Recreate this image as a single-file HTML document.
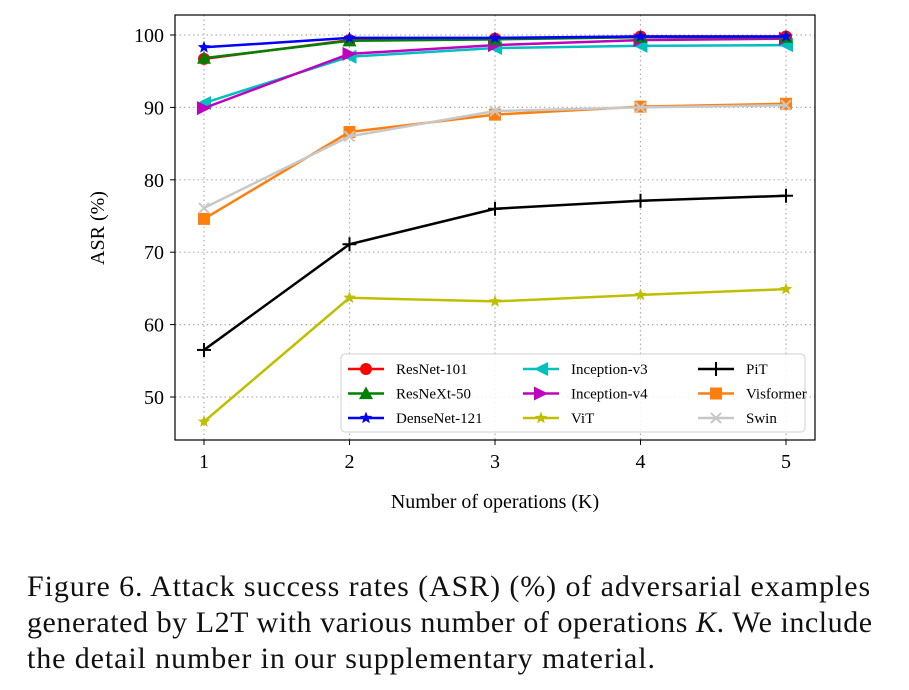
<!DOCTYPE html>
<html><head><meta charset="utf-8"><style>
body{margin:0;background:#fff;width:909px;height:690px;overflow:hidden;font-family:"Liberation Serif",serif}
.cap{position:absolute;left:27px;top:569px;font-size:30px;line-height:36px;letter-spacing:0.9px;color:#111;white-space:nowrap}
.cap span{display:block}
</style></head><body>
<svg id="chart" width="909" height="545" style="position:absolute;left:0;top:0" font-family="Liberation Serif, serif"></svg>
<div class="cap"><span>Figure 6. Attack success rates (ASR) (%) of adversarial examples</span><span style="letter-spacing:0.55px">generated by L2T with various number of operations <i>K</i>. We include</span><span>the detail number in our supplementary material.</span></div>
<script>
const categories=[1,2,3,4,5];
const yTicks=[50,60,70,80,90,100];
const resnet101=[96.7,99.3,99.5,99.8,99.8];
const resnext50=[96.8,99.2,99.4,99.7,99.7];
const densenet121=[98.3,99.6,99.6,99.8,99.8];
const inceptionV3=[90.6,97.0,98.2,98.5,98.6];
const inceptionV4=[89.9,97.4,98.6,99.3,99.5];
const vit=[46.6,63.7,63.2,64.1,64.9];
const pit=[56.5,71.1,76.0,77.1,77.8];
const visformer=[74.6,86.6,89.0,90.1,90.5];
const swin=[76.1,86.0,89.5,90.0,90.3];
const NS='http://www.w3.org/2000/svg';
const svg=document.getElementById('chart');
const X=k=>204+(k-1)*145.5;
const Y=v=>35+(100-v)*7.24;
function mk(t,a,p){const e=document.createElementNS(NS,t);for(const k in a)e.setAttribute(k,a[k]);(p||svg).appendChild(e);return e;}
yTicks.forEach(v=>{const l=mk('line',{x1:175,x2:815,y1:Y(v),y2:Y(v),stroke:'#b0b0b0','stroke-dasharray':'1.5,3','stroke-width':1.2});

mk('line',{x1:170,x2:175,y1:Y(v),y2:Y(v),stroke:'#000'});
const t=mk('text',{x:164,y:Y(v)+7,'text-anchor':'end','font-size':20});t.textContent=v;
});
categories.forEach(c=>{const l=mk('line',{x1:X(c),x2:X(c),y1:15,y2:440,stroke:'#b0b0b0','stroke-dasharray':'1.5,3','stroke-width':1.2});

mk('line',{x1:X(c),x2:X(c),y1:440,y2:445,stroke:'#000'});
const t=mk('text',{x:X(c),y:468,'text-anchor':'middle','font-size':20});t.textContent=c;
});
const f=mk('rect',{x:175,y:15,width:640,height:425,fill:'none',stroke:'#000','stroke-width':1.2});

const xt=mk('text',{x:495,y:508,'text-anchor':'middle','font-size':20});xt.textContent='Number of operations (K)';

const yt=mk('text',{x:0,y:0,'text-anchor':'middle','font-size':20,transform:'translate(104,228) rotate(-90)'});yt.textContent='ASR (%)';

function marker(g,type,x,y,c){
 const s=7;
 if(type==='o')mk('circle',{cx:x,cy:y,r:6,fill:c},g);
 else if(type==='^')mk('polygon',{points:`${x},${y-s} ${x-s},${y+s*0.8} ${x+s},${y+s*0.8}`,fill:c},g);
 else if(type==='<')mk('polygon',{points:`${x-s},${y} ${x+s},${y-s} ${x+s},${y+s}`,fill:c},g);
 else if(type==='>')mk('polygon',{points:`${x+s},${y} ${x-s},${y-s} ${x-s},${y+s}`,fill:c},g);
 else if(type==='*'){let p=[];for(let i=0;i<10;i++){const r=i%2?2.8:6.5,a=-Math.PI/2+i*Math.PI/5;p.push((x+r*Math.cos(a)).toFixed(1)+','+(y+r*Math.sin(a)).toFixed(1));}mk('polygon',{points:p.join(' '),fill:c},g);}
 else if(type==='+'){mk('line',{x1:x-7,x2:x+7,y1:y,y2:y,stroke:c,'stroke-width':2},g);mk('line',{x1:x,x2:x,y1:y-7,y2:y+7,stroke:c,'stroke-width':2},g);}
 else if(type==='s')mk('rect',{x:x-6,y:y-6,width:12,height:12,fill:c},g);
 else if(type==='x'){mk('line',{x1:x-5,x2:x+5,y1:y-5,y2:y+5,stroke:c,'stroke-width':2},g);mk('line',{x1:x-5,x2:x+5,y1:y+5,y2:y-5,stroke:c,'stroke-width':2},g);}
}
const series=[
 ['resnet-101','ResNet-101',resnet101,'#ff0000','o'],
 ['resnext-50','ResNeXt-50',resnext50,'#008000','^'],
 ['densenet-121','DenseNet-121',densenet121,'#0000ff','*'],
 ['inception-v3','Inception-v3',inceptionV3,'#00bfbf','<'],
 ['inception-v4','Inception-v4',inceptionV4,'#bf00bf','>'],
 ['vit','ViT',vit,'#bfbf00','*'],
 ['pit','PiT',pit,'#000000','+'],
 ['visformer','Visformer',visformer,'#ff7f0e','s'],
 ['swin','Swin',swin,'#c8c8c8','x']];
const draw=[7,8,6,5,3,4,0,1,2];
draw.forEach(i=>{const [id,lab,vals,c,m]=series[i];
 const g=mk('g',{});
 mk('polyline',{points:vals.map((v,j)=>X(categories[j])+','+Y(v)).join(' '),fill:'none',stroke:c,'stroke-width':2.5},g);
 vals.forEach((v,j)=>marker(g,m,X(categories[j]),Y(v),c));});
const lg=mk('g',{});
mk('rect',{x:341,y:354,width:464,height:78,rx:4,fill:'rgba(255,255,255,0.85)',stroke:'#d0d0d0'},lg);
series.forEach((s,i)=>{const col=Math.floor(i/3),row=i%3;const x0=348+col*175,y0=369+row*24.5;
 const e=mk('g',{},lg);
 mk('line',{x1:x0,x2:x0+36,y1:y0,y2:y0,stroke:s[3],'stroke-width':2.5},e);
 marker(e,s[4],x0+18,y0,s[3]);
 const t=mk('text',{x:x0+48,y:y0+5,'font-size':15},e);t.textContent=s[1];});
</script>
</body></html>
